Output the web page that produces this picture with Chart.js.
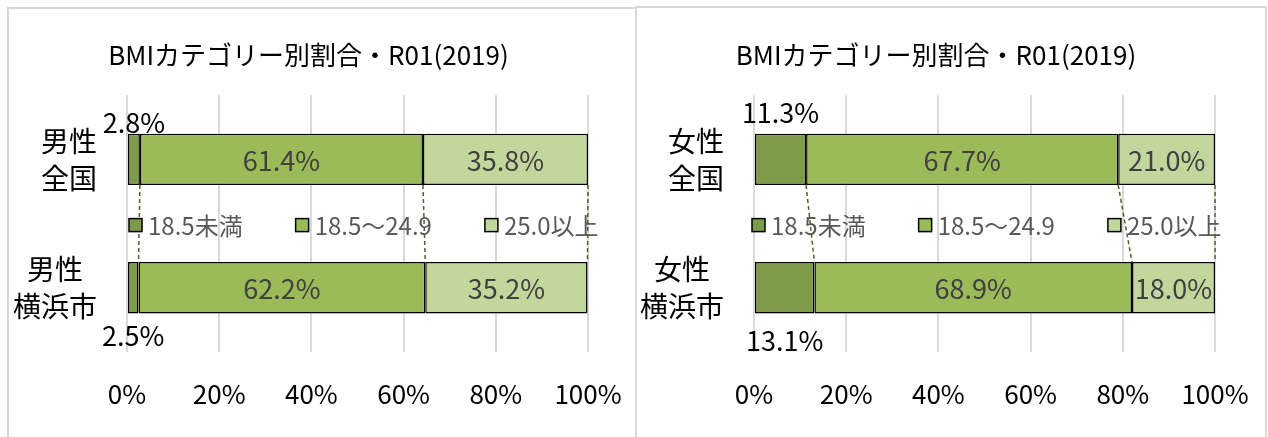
<!DOCTYPE html>
<html lang="ja">
<head>
<meta charset="utf-8">
<title>BMIカテゴリー別割合</title>
<script src="https://cdn.jsdelivr.net/npm/chart.js@4.4.1/dist/chart.umd.min.js"></script>
<style>
  html, body { margin: 0; padding: 0; background: #fff; }
  body { width: 1268px; height: 437px; position: relative; overflow: hidden; }
  .box { position: absolute; box-sizing: border-box; border: 2px solid #d9d9d9; border-bottom: none; height: 440px; }
  #box-m { left: 7px; top: 7px; width: 630px; }
  #box-f { left: 635px; top: 6px; width: 632px; }
  .wrap { position: relative; }
  #box-m .wrap { width: 626px; height: 428px; }
  #box-f .wrap { width: 628px; height: 429px; }
</style>
</head>
<body>
<div class="box" id="box-m"><div class="wrap"><canvas id="chart-m"></canvas></div></div>
<div class="box" id="box-f"><div class="wrap"><canvas id="chart-f"></canvas></div></div>

<script>
// --- data ---
const titleText = 'BMIカテゴリー別割合・R01(2019)';
const seriesNames = ['18.5未満', '18.5～24.9', '25.0以上'];
const seriesColors = ['#7e9b49', '#9bbb59', '#c3d69b'];

const maleCats = [['男性', '全国'], ['男性', '横浜市']];
const maleUnder = [2.8, 2.5];
const maleNormal = [61.4, 62.2];
const maleOver = [35.8, 35.2];

const femaleCats = [['女性', '全国'], ['女性', '横浜市']];
const femaleUnder = [11.3, 13.1];
const femaleNormal = [67.7, 68.9];
const femaleOver = [21.0, 18.0];

const xTicks = [0, 20, 40, 60, 80, 100];

const FONT = '"Noto Sans CJK JP", "Noto Sans", sans-serif';

// category labels, series lines, value labels and the legend in the middle
const extras = {
  id: 'bmiExtras',
  afterDatasetsDraw(chart, args, o) {
    const { ctx, chartArea } = chart;
    const yScale = chart.scales.y;
    const metas = chart.data.datasets.map((d, i) => chart.getDatasetMeta(i));

    // series lines
    ctx.save();
    ctx.strokeStyle = '#4f6228';
    ctx.lineWidth = 1.5;
    ctx.setLineDash([4, 3]);
    metas.forEach(m => {
      const a = m.data[0], b = m.data[1];
      ctx.beginPath();
      ctx.moveTo(a.x, a.y + a.height / 2);
      ctx.lineTo(b.x, b.y - b.height / 2);
      ctx.stroke();
    });
    ctx.restore();

    // value labels
    ctx.save();
    ctx.font = '27px ' + FONT;
    ctx.textAlign = 'center';
    ctx.textBaseline = 'middle';
    metas.forEach((m, i) => {
      m.data.forEach((bar, j) => {
        const v = chart.data.datasets[i].data[j];
        const txt = v.toFixed(1) + '%';
        const l = Math.min(bar.base, bar.x), r = Math.max(bar.base, bar.x);
        const cx = (l + r) / 2;
        if (ctx.measureText(txt).width < r - l - 2) {
          ctx.fillStyle = '#404040';
          ctx.fillText(txt, cx, bar.y + 1);
        } else {
          ctx.fillStyle = '#000';
          const y = j === 0 ? bar.y - bar.height / 2 - o.above : bar.y + bar.height / 2 + o.below;
          ctx.fillText(txt, cx, y);
        }
      });
    });
    ctx.restore();

    // legend between the bars
    ctx.save();
    ctx.font = '24px ' + FONT;
    ctx.textBaseline = 'middle';
    const ly = (yScale.getPixelForValue(0) + yScale.getPixelForValue(1)) / 2 + o.legendShift;
    let lx = chartArea.left + o.legendX;
    chart.data.datasets.forEach(ds => {
      ctx.fillStyle = ds.backgroundColor;
      ctx.fillRect(lx, ly - 7, 13, 13);
      ctx.strokeStyle = '#000';
      ctx.lineWidth = 1.5;
      ctx.strokeRect(lx, ly - 7, 13, 13);
      ctx.fillStyle = '#595959';
      ctx.fillText(ds.label, lx + 19, ly);
      lx += 19 + ctx.measureText(ds.label).width + 53;
    });
    ctx.restore();

    // category labels, lines centred within each block
    ctx.save();
    ctx.font = '28px ' + FONT;
    ctx.fillStyle = '#000';
    ctx.textAlign = 'center';
    ctx.textBaseline = 'middle';
    chart.data.labels.forEach((lines, k) => {
      const yc = yScale.getPixelForValue(k);
      const widest = Math.max(...lines.map(t => ctx.measureText(t).width));
      const cx = chartArea.left - 30 - widest / 2;
      lines.forEach((t, n) => {
        ctx.fillText(t, cx, yc + (n - (lines.length - 1) / 2) * 37);
      });
    });
    ctx.restore();
  }
};

function makeChart(id, cats, under, normal, over, area, labelOpts) {
  const el = document.getElementById(id);
  const W = el.parentElement.clientWidth, H = el.parentElement.clientHeight;
  const padL = 20;
  return new Chart(el, {
    type: 'bar',
    data: {
      labels: cats,
      datasets: [under, normal, over].map((vals, i) => ({
        label: seriesNames[i],
        data: vals,
        backgroundColor: seriesColors[i],
        borderColor: '#000',
        borderWidth: 1.5,
        borderSkipped: false,
        barPercentage: 0.4,
        categoryPercentage: 1
      }))
    },
    options: {
      indexAxis: 'y',
      responsive: true,
      maintainAspectRatio: false,
      animation: false,
      layout: { padding: { left: padL, right: W - area.right, top: 0, bottom: 0 } },
      scales: {
        x: {
          stacked: true,
          min: 0,
          max: 100,
          afterBuildTicks: s => { s.ticks = xTicks.map(v => ({ value: v })); },
          afterFit: s => {
            s.height = H - area.bottom;
            s.paddingLeft = 0;
            s.paddingRight = 0;
          },
          ticks: {
            callback: v => v + '%',
            color: '#000',
            padding: 27,
            font: { family: FONT, size: 26 }
          },
          grid: { color: '#d9d9d9', lineWidth: 2, drawTicks: false },
          border: { display: false }
        },
        y: {
          stacked: true,
          afterFit: s => { s.width = area.left - padL; },
          ticks: { display: false },
          grid: { display: false },
          border: { display: false }
        }
      },
      plugins: {
        legend: { display: false },
        tooltip: { enabled: false },
        title: {
          display: true,
          text: titleText,
          color: '#000',
          font: { family: FONT, size: 26, weight: 'normal' },
          padding: { top: area.top - 55, bottom: 24 }
        },
        bmiExtras: labelOpts
      }
    },
    plugins: [extras]
  });
}

makeChart('chart-m', maleCats, maleUnder, maleNormal, maleOver,
  { left: 118, right: 579, top: 86, bottom: 343 },
  { above: 11, below: 22, legendX: 2, legendShift: 2 });

makeChart('chart-f', femaleCats, femaleUnder, femaleNormal, femaleOver,
  { left: 117, right: 578, top: 87, bottom: 344 },
  { above: 21, below: 27, legendX: -2, legendShift: 2 });
</script>
</body>
</html>
